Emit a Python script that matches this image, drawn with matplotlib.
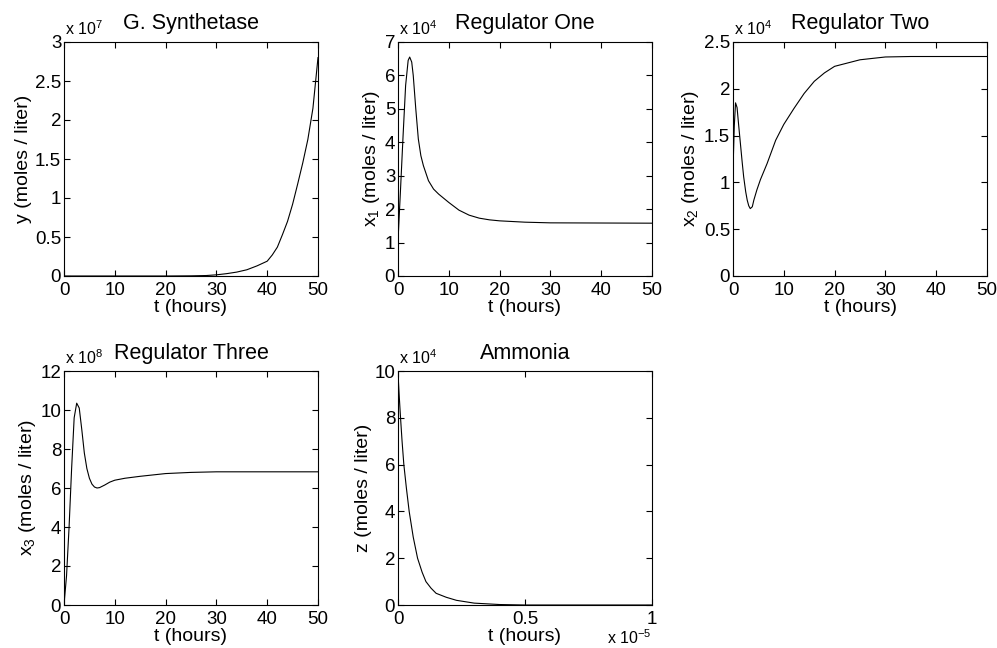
import matplotlib
matplotlib.use("Agg")
import matplotlib.pyplot as plt
from matplotlib.ticker import FuncFormatter

plt.rcParams['font.family'] = ['Liberation Sans', 'DejaVu Sans']
plt.rcParams['mathtext.default'] = 'regular'

# glutamine synthetase, units of 1e7
t_syn = [0, 10, 20, 25, 28, 30, 32, 34, 36, 38, 40, 41, 42, 43, 44, 45, 46, 47, 48, 49, 50]
y_syn = [0, 0, 0, 0.002, 0.006, 0.015, 0.03, 0.05, 0.08, 0.13, 0.19, 0.27, 0.37, 0.53,
         0.70, 0.92, 1.18, 1.45, 1.75, 2.15, 2.8]

# regulator one, units of 1e4
t_r1 = [0, 0.5, 1, 1.5, 2, 2.3, 2.7, 3, 3.5, 4, 4.5, 5, 6, 7, 8, 10, 12, 14, 16, 18, 20, 25, 30, 50]
x1 = [1.05, 2.6, 4.2, 5.7, 6.45, 6.55, 6.4, 6.0, 5.0, 4.1, 3.6, 3.3, 2.85, 2.6, 2.45, 2.2,
      1.97, 1.82, 1.73, 1.68, 1.65, 1.61, 1.59, 1.58]

# regulator two, units of 1e4
t_r2 = [0, 0.25, 0.5, 0.8, 1.1, 1.45, 1.8, 2.1, 2.5, 2.8, 3.1, 3.4, 3.8, 4.1, 4.7, 5.4,
        6.7, 8.4, 10, 12, 14, 16, 18, 20, 25, 30, 35, 50]
x2 = [1.13, 1.6, 1.85, 1.8, 1.62, 1.42, 1.22, 1.06, 0.9, 0.81, 0.75, 0.72, 0.74, 0.81,
      0.92, 1.03, 1.2, 1.45, 1.62, 1.79, 1.95, 2.08, 2.17, 2.24, 2.31, 2.34, 2.345, 2.345]

# regulator three, units of 1e8
t_r3 = [0, 0.5, 1, 1.5, 2, 2.5, 3, 3.5, 4, 4.5, 5, 5.5, 6, 6.5, 7, 8, 9, 10, 12, 15, 20, 25, 30, 50]
x3 = [0, 1.5, 4.0, 7.0, 9.6, 10.35, 10.1, 9.0, 7.8, 7.0, 6.5, 6.2, 6.05, 6.0, 6.02, 6.15,
      6.3, 6.4, 6.5, 6.6, 6.74, 6.8, 6.83, 6.83]

# ammonia, t in units of 1e-5, z in units of 1e4
t_amm = [0, 0.005, 0.01, 0.016, 0.023, 0.033, 0.044, 0.06, 0.077, 0.095, 0.11, 0.13,
         0.15, 0.19, 0.23, 0.3, 0.4, 0.5, 1.0]
z_amm = [9.9, 8.9, 8, 7, 6, 5, 4, 2.9, 2, 1.4, 1, 0.72, 0.5, 0.33, 0.2, 0.08, 0.02, 0, 0]

W, H = 997.0, 648.0
fig = plt.figure(figsize=(W / 100, H / 100), dpi=100)


def panel(left, top, title, t, v, ylabel, ymax, ystep, yexp, xmax=50, xstep=10):
    ax = fig.add_axes([left / W, 1 - (top + 234) / H, 254 / W, 234 / H])
    ax.plot(t, v, color='black', lw=0.8)
    ax.set_xlim(0, xmax)
    ax.set_ylim(0, ymax)
    nx = int(round(xmax / xstep))
    ny = int(round(ymax / ystep))
    ax.set_xticks([i * xstep for i in range(nx + 1)])
    ax.set_yticks([i * ystep for i in range(ny + 1)])
    fmt = FuncFormatter(lambda val, pos: '%g' % round(val, 6))
    ax.xaxis.set_major_formatter(fmt)
    ax.yaxis.set_major_formatter(fmt)
    ax.tick_params(direction='in', top=True, right=True, length=4, width=0.8,
                   labelsize=13.5)
    ax.tick_params(axis='x', pad=4)
    ax.tick_params(axis='y', pad=2)
    for s in ax.spines.values():
        s.set_linewidth(0.8)
    ax.set_title(title, fontsize=15.5, pad=9)
    ax.set_xlabel('t (hours)', fontsize=14, labelpad=0)
    ax.set_ylabel(ylabel, fontsize=14, labelpad=2)
    ax.text(0.005, 1.03, r'x 10$^{%d}$' % yexp, transform=ax.transAxes,
            fontsize=11.5, ha='left', va='baseline')
    return ax


panel(64, 42, 'G. Synthetase', t_syn, y_syn, 'y (moles / liter)', 3, 0.5, 7)
panel(398, 42, 'Regulator One', t_r1, x1, 'x$_1$ (moles / liter)', 7, 1, 4)
panel(733, 42, 'Regulator Two', t_r2, x2, 'x$_2$ (moles / liter)', 2.5, 0.5, 4)
panel(64, 371, 'Regulator Three', t_r3, x3, 'x$_3$ (moles / liter)', 12, 2, 8)
ax5 = panel(398, 371, 'Ammonia', t_amm, z_amm, 'z (moles / liter)', 10, 2, 4,
            xmax=1, xstep=0.5)
ax5.text(1.0, -0.165, r'x 10$^{-5}$', transform=ax5.transAxes,
         fontsize=11.5, ha='right', va='baseline')

fig.savefig('out.png', dpi=100)
